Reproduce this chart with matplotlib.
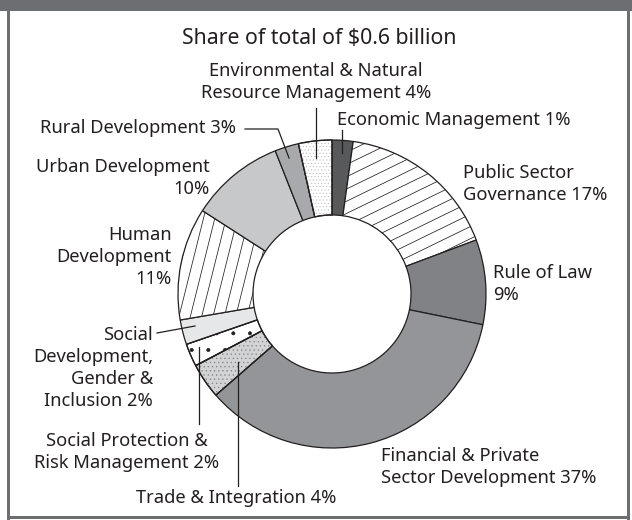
import numpy as np
import matplotlib.pyplot as plt
from matplotlib.patches import Rectangle, Wedge

plt.rcParams['font.family'] = ['Noto Sans', 'DejaVu Sans']
plt.rcParams['hatch.linewidth'] = 0.4

# slices, clockwise from 12 o'clock
categories = ['Economic Management', 'Public Sector Governance', 'Rule of Law',
              'Financial & Private Sector Development', 'Trade & Integration',
              'Social Protection & Risk Management',
              'Social Development, Gender & Inclusion', 'Human Development',
              'Urban Development', 'Rural Development',
              'Environmental & Natural Resource Management']
shares = [2.2, 17.1, 8.9, 35.4, 3.7, 2.4, 2.6, 11.8, 9.9, 2.5, 3.5]
labels = ['Economic Management 1%', 'Public Sector\nGovernance 17%',
          'Rule of Law\n9%', 'Financial & Private\nSector Development 37%',
          'Trade & Integration 4%', 'Social Protection &\nRisk Management 2%',
          'Social\nDevelopment,\nGender &\nInclusion 2%',
          'Human\nDevelopment\n11%', 'Urban Development\n10%',
          'Rural Development 3%',
          'Environmental & Natural\nResource Management 4%']
colors = ['#58595b', 'white', '#808285', '#939598', '#d1d3d4', 'white',
          '#e6e7e8', 'white', '#c7c8ca', '#a7a9ac', 'white']
title = 'Share of total of $0.6 billion'

ink = '#231f20'
frame = '#6d6e71'

fig = plt.figure(figsize=(6.32, 5.2), dpi=100)
ax = fig.add_axes([0, 0, 1, 1])

wedges, _ = ax.pie(shares, colors=colors, startangle=-90, counterclock=True,
                   center=(332, 294), radius=154,
                   wedgeprops=dict(width=75, edgecolor=ink, linewidth=0.9))
ax.set_xlim(0, 632)
ax.set_ylim(520, 0)
ax.set_aspect('equal')
ax.axis('off')

# stipple / dot fills
for i, h, c in [(4, '....', '#808285'), (5, '.', ink), (10, '.....', '#bcbec0')]:
    w = wedges[i]
    ax.add_patch(Wedge(w.center, w.r, w.theta1, w.theta2, width=w.width,
                       facecolor='none', edgecolor=c, linewidth=0, hatch=h))
    ax.add_patch(Wedge(w.center, w.r, w.theta1, w.theta2, width=w.width,
                       fill=False, edgecolor=ink, linewidth=0.9))


def hatch_lines(w, angle, spacing):
    cx, cy = w.center
    R = w.r
    a = np.radians(angle)
    d = np.array([np.cos(a), -np.sin(a)])
    n = np.array([np.sin(a), np.cos(a)])
    for off in np.arange(-R, R + spacing, spacing):
        p0 = np.array([cx, cy]) + n * off - d * R
        p1 = np.array([cx, cy]) + n * off + d * R
        ln, = ax.plot([p0[0], p1[0]], [p0[1], p1[1]], color=ink, lw=0.55)
        ln.set_clip_path(w)


hatch_lines(wedges[1], 26, 11)
hatch_lines(wedges[7], 76, 11)

# frame
ax.add_patch(Rectangle((0, 0), 632, 11, color=frame, lw=0))
ax.add_patch(Rectangle((7, 0), 3, 520, color=frame, lw=0))
ax.add_patch(Rectangle((627, 0), 3, 520, color=frame, lw=0))
ax.add_patch(Rectangle((7, 516), 623, 3, color=frame, lw=0))

ax.text(319, 38, title, ha='center', va='center', fontsize=15.3, color=ink)

fs = 13.2
pos = [(337, 120, 'left'), (463, 184, 'left'), (493, 284, 'left'),
       (381, 467, 'left'), (236, 498, 'center'), (127, 452, 'center'),
       (153, 368, 'right'), (172, 257, 'right'), (210, 178, 'right'),
       (40, 128, 'left'), (316, 82, 'center')]
for lab, (x, y, ha) in zip(labels, pos):
    ax.text(x, y, lab, ha=ha, va='center', multialignment=ha, fontsize=fs,
            color=ink, linespacing=1.3)

# leader lines
leaders = [([316, 316], [108, 158]), ([342, 342], [130, 153]),
           ([245, 278, 289], [129, 129, 158]), ([157, 195], [333, 326]),
           ([199, 199], [347, 424]), ([238, 238], [362, 486])]
for xs, ys in leaders:
    ax.plot(xs, ys, color=ink, lw=0.9)

fig.savefig('out.png', dpi=100)
